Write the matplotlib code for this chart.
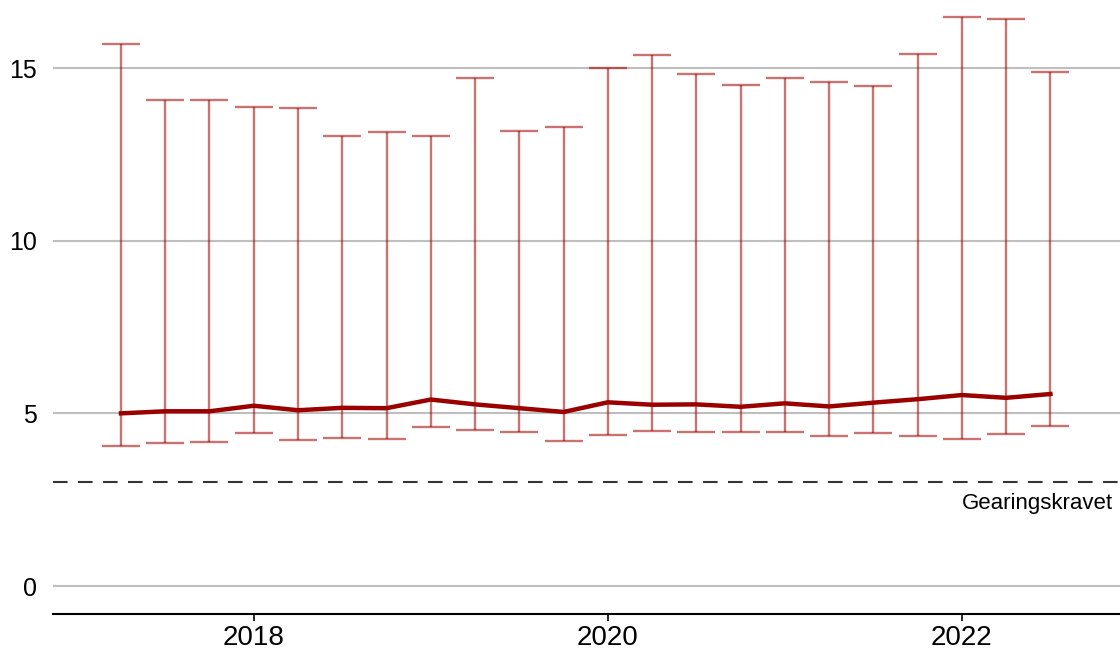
import matplotlib.pyplot as plt

plt.rcParams['font.family'] = ['Liberation Sans', 'DejaVu Sans']

quarters = ['2017Q2', '2017Q3', '2017Q4', '2018Q1', '2018Q2', '2018Q3', '2018Q4',
            '2019Q1', '2019Q2', '2019Q3', '2019Q4', '2020Q1', '2020Q2', '2020Q3',
            '2020Q4', '2021Q1', '2021Q2', '2021Q3', '2021Q4', '2022Q1', '2022Q2',
            '2022Q3']
median = [5.00, 5.06, 5.06, 5.22, 5.09, 5.16, 5.15, 5.40, 5.26, 5.15, 5.04,
          5.32, 5.25, 5.26, 5.19, 5.29, 5.20, 5.31, 5.41, 5.53, 5.45, 5.56]
low = [4.06, 4.13, 4.17, 4.43, 4.24, 4.30, 4.27, 4.60, 4.52, 4.45, 4.21,
       4.37, 4.48, 4.45, 4.45, 4.45, 4.33, 4.42, 4.35, 4.26, 4.40, 4.62]
high = [15.70, 14.07, 14.07, 13.88, 13.83, 13.03, 13.14, 13.04, 14.72, 13.18, 13.28,
        15.00, 15.37, 14.84, 14.52, 14.70, 14.60, 14.47, 15.42, 16.47, 16.41, 14.89]
requirement = 3
req_label = 'Gearingskravet'
xticks = [2018, 2020, 2022]
yticks = [0, 5, 10, 15]

# quarter -> decimal year (start of quarter)
x = [int(q[:4]) + (int(q[-1]) - 1) / 4 for q in quarters]
yerr = [[m - l for m, l in zip(median, low)], [h - m for m, h in zip(median, high)]]

fig = plt.figure(figsize=(11.2, 6.5), dpi=100)
ax = fig.add_axes([0.047, 0.0554, 0.953, 0.9446])

for yt in yticks:
    ax.axhline(yt, color='#bebebe', lw=1.5, zorder=0)

ax.errorbar(x, median, yerr=yerr, fmt='none', ecolor='#a00000', alpha=0.55,
            elinewidth=1.7, capsize=14, capthick=1.7, zorder=2)
ax.plot(x, median, color='#9a0000', lw=3.2, zorder=3)

ax.axhline(requirement, color='#333333', lw=1.5, ls=(0, (7, 5)), zorder=1)
ax.text(0.9937, requirement - 0.3, req_label, transform=ax.get_yaxis_transform(),
        ha='right', va='top', fontsize=16)

ax.set_xlim(2016.864, 2022.893)
ax.set_ylim(-0.81, 16.97)
ax.set_xticks(xticks)
ax.set_xticklabels([str(t) for t in xticks])
ax.set_yticks(yticks)
ax.tick_params(axis='y', length=0, labelsize=18, pad=11)
ax.tick_params(axis='x', length=5, width=1.2, labelsize=20, pad=3)
for s in ['top', 'right', 'left']:
    ax.spines[s].set_visible(False)
ax.spines['bottom'].set_linewidth(1.5)

fig.savefig('out.png', dpi=100)
